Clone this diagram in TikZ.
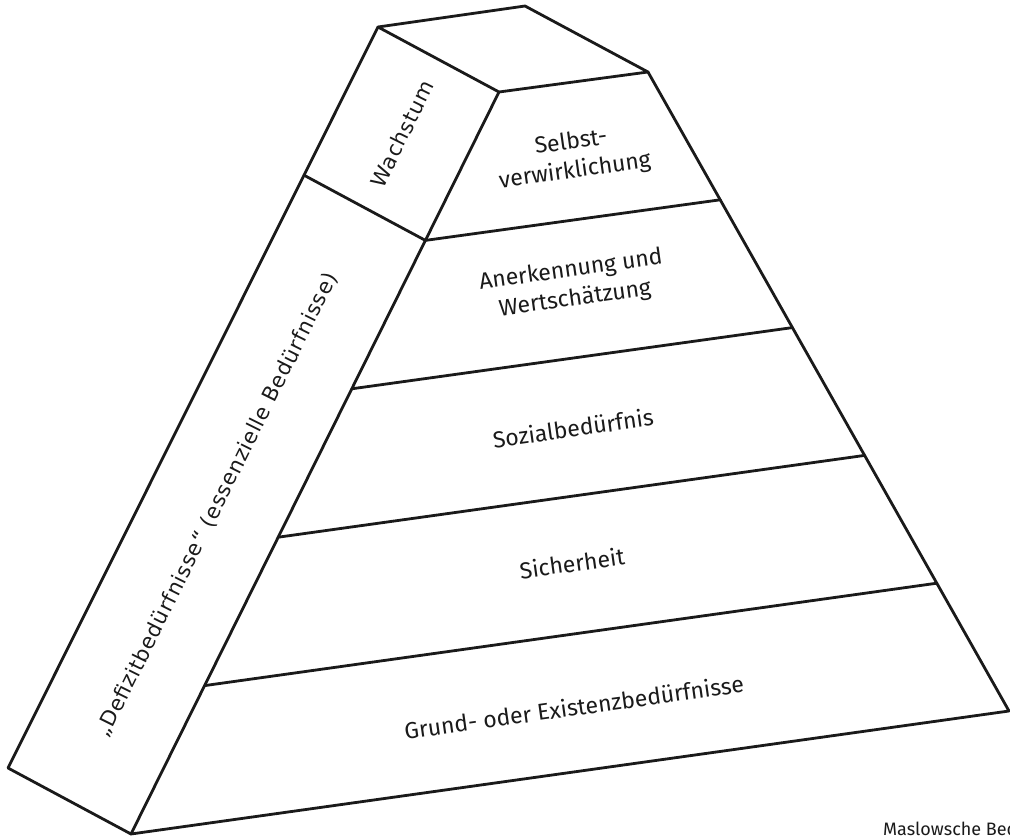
\documentclass[tikz,border=0pt]{standalone}
\usepackage{fontspec}
\setmainfont{Fira Sans}
\newfontfamily\sidefont[LetterSpace=4]{DejaVu Sans}
\usetikzlibrary{calc}
\definecolor{ink}{HTML}{1A1A1A}
\begin{document}
\begin{tikzpicture}[x=1pt,y=-1pt,
  edge/.style={draw=ink,line width=2.8pt,line join=round,line cap=round},
  lvl/.style={text=ink,font=\fontsize{23}{29}\selectfont,align=center,rotate=8,inner sep=0pt},
  side/.style={text=ink,font=\sidefont\fontsize{21}{24}\selectfont,rotate=63.5,inner sep=0pt},
  caption/.style={text=ink,font=\fontsize{18}{20}\selectfont,inner sep=0pt,anchor=base west}]
\useasboundingbox (0,0) rectangle (1010,837);
% corners
\coordinate (A) at (525,6);
\coordinate (TL) at (378,27);
\coordinate (TR) at (648,72);
\coordinate (F) at (499,92);
\coordinate (BL) at (8,768);
\coordinate (FB) at (131,834);
\coordinate (BR) at (1009,711);
% band division points
\coordinate (L1) at ($(F)!0.2!(FB)$);
\coordinate (L2) at ($(F)!0.4!(FB)$);
\coordinate (L3) at ($(F)!0.6!(FB)$);
\coordinate (L4) at ($(F)!0.8!(FB)$);
\coordinate (R1) at ($(TR)!0.2!(BR)$);
\coordinate (R2) at ($(TR)!0.4!(BR)$);
\coordinate (R3) at ($(TR)!0.6!(BR)$);
\coordinate (R4) at ($(TR)!0.8!(BR)$);
\coordinate (W) at ($(TL)!0.2!(BL)$);
% outline
\draw[edge] (TL) -- (A) -- (TR) -- (BR) -- (FB) -- (BL) -- cycle;
\draw[edge] (TL) -- (F) -- (TR);
\draw[edge] (F) -- (FB);
\draw[edge] (L1) -- (R1);
\draw[edge] (L2) -- (R2);
\draw[edge] (L3) -- (R3);
\draw[edge] (L4) -- (R4);
\draw[edge] (W) -- (L1);
% labels
\node[lvl] (t1) at (573,157) {Selbst-\\verwirklichung};
\node[lvl] (t2) at (573,285) {Anerkennung und\\Wertschätzung};
\node[lvl] (t3) at (573,428) {Sozialbedürfnis};
\node[lvl] (t4) at (572,563) {Sicherheit};
\node[lvl] (t5) at (574,707) {Grund- oder Existenzbedürfnisse};
\node[side] (s1) at (402,134) {Wachstum};
\node[side] (s2) at (217,505) {„Defizitbedürfnisse“ (essenzielle Bedürfnisse)};
\node[caption] (cap) at (883,835) {Maslowsche Bed};
\end{tikzpicture}
\end{document}
